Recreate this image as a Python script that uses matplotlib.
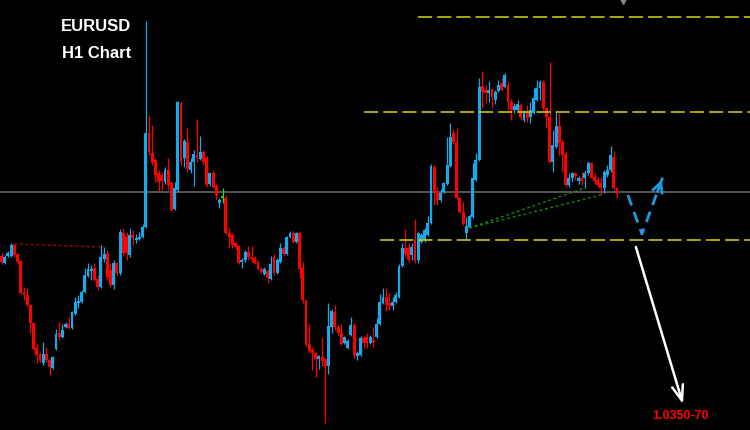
import numpy as np
import matplotlib
matplotlib.use("Agg")
import matplotlib.pyplot as plt

# EURUSD H1 candles
opens = [1.0744, 1.0737, 1.0744, 1.0744, 1.0755, 1.0746, 1.0739, 1.0708, 1.0705, 1.0695,
         1.0677, 1.0652, 1.0646, 1.0637, 1.0646, 1.0640, 1.0632, 1.0651, 1.0667, 1.0663,
         1.0673, 1.0676, 1.0672, 1.0686, 1.0697, 1.0698, 1.0708, 1.0724, 1.0729, 1.0732,
         1.0721, 1.0713, 1.0741, 1.0746, 1.0730, 1.0715, 1.0737, 1.0727, 1.0767, 1.0763,
         1.0745, 1.0765, 1.0760, 1.0761, 1.0763, 1.0773,
         1.0867, 1.0847, 1.0840, 1.0827, 1.0825, 1.0818, 1.0830, 1.0817, 1.0791, 1.0810,
         1.0897, 1.0842, 1.0858, 1.0830, 1.0838, 1.0845, 1.0841, 1.0848, 1.0842, 1.0816,
         1.0827, 1.0814, 1.0797, 1.0802, 1.0802, 1.0767, 1.0765, 1.0757, 1.0754, 1.0738,
         1.0740, 1.0748, 1.0743, 1.0742, 1.0738, 1.0731, 1.0726,
         1.0729, 1.0721, 1.0743, 1.0727, 1.0738, 1.0752, 1.0746, 1.0763, 1.0767, 1.0758,
         1.0767, 1.0732, 1.0700, 1.0656, 1.0650, 1.0647, 1.0641, 1.0643, 1.0641, 1.0634,
         1.0673, 1.0688, 1.0673, 1.0667, 1.0657, 1.0652, 1.0665, 1.0675, 1.0644, 1.0645,
         1.0662, 1.0663, 1.0657, 1.0660, 1.0663, 1.0676, 1.0697, 1.0703, 1.0697, 1.0694,
         1.0698, 1.0703, 1.0734, 1.0752, 1.0752, 1.0745, 1.0760, 1.0740, 1.0758, 1.0760,
         1.0765, 1.0777, 1.0833, 1.0808, 1.0800, 1.0808, 1.0816, 1.0834, 1.0867, 1.0858,
         1.0802, 1.0788, 1.0767, 1.0773, 1.0783, 1.0820, 1.0840, 1.0914, 1.0910, 1.0907,
         1.0911, 1.0900, 1.0909, 1.0917, 1.0913, 1.0915, 1.0898, 1.0890, 1.0890,
         1.0895, 1.0880, 1.0887, 1.0883, 1.0887, 1.0900, 1.0912, 1.0918, 1.0892, 1.0883,
         1.0838, 1.0853, 1.0874, 1.0858, 1.0846, 1.0815, 1.0822, 1.0827, 1.0819, 1.0822,
         1.0822, 1.0827, 1.0837, 1.0823, 1.0820, 1.0817, 1.0812, 1.0825, 1.0830, 1.0843, 1.0812]

highs = [1.0747, 1.0745, 1.0749, 1.0757, 1.0756, 1.0747, 1.0740, 1.0713, 1.0712, 1.0696,
         1.0678, 1.0657, 1.0648, 1.0658, 1.0653, 1.0642, 1.0644, 1.0671, 1.0678, 1.0676,
         1.0678, 1.0683, 1.0689, 1.0703, 1.0705, 1.0710, 1.0732, 1.0737, 1.0735, 1.0737,
         1.0725, 1.0755, 1.0753, 1.0750, 1.0737, 1.0740, 1.0738, 1.0771, 1.0772, 1.0768,
         1.0772, 1.0770, 1.0766, 1.0768, 1.0776, 1.0979,
         1.0885, 1.0875, 1.0842, 1.0830, 1.0828, 1.0833, 1.0842, 1.0819, 1.0818, 1.0899,
         1.0898, 1.0861, 1.0872, 1.0842, 1.0850, 1.0881, 1.0864, 1.0850, 1.0844, 1.0828,
         1.0830, 1.0816, 1.0802, 1.0812, 1.0805, 1.0772, 1.0767, 1.0759, 1.0755, 1.0742,
         1.0750, 1.0754, 1.0754, 1.0744, 1.0740, 1.0733, 1.0733,
         1.0731, 1.0744, 1.0746, 1.0742, 1.0757, 1.0754, 1.0764, 1.0769, 1.0769, 1.0768,
         1.0768, 1.0738, 1.0700, 1.0676, 1.0653, 1.0648, 1.0645, 1.0663, 1.0642, 1.0697,
         1.0691, 1.0695, 1.0675, 1.0676, 1.0664, 1.0661, 1.0683, 1.0677, 1.0649, 1.0664,
         1.0664, 1.0667, 1.0665, 1.0673, 1.0682, 1.0706, 1.0712, 1.0712, 1.0707, 1.0703,
         1.0708, 1.0736, 1.0757, 1.0771, 1.0757, 1.0757, 1.0781, 1.0768, 1.0767, 1.0772,
         1.0784, 1.0836, 1.0835, 1.0813, 1.0811, 1.0818, 1.0863, 1.0877, 1.0871, 1.0872,
         1.0802, 1.0798, 1.0783, 1.0786, 1.0837, 1.0847, 1.0922, 1.0929, 1.0915, 1.0919,
         1.0912, 1.0910, 1.0920, 1.0922, 1.0927, 1.0919, 1.0901, 1.0897, 1.0900,
         1.0897, 1.0890, 1.0895, 1.0898, 1.0912, 1.0920, 1.0920, 1.0920, 1.0893, 1.0938,
         1.0870, 1.0888, 1.0887, 1.0861, 1.0849, 1.0827, 1.0828, 1.0828, 1.0824, 1.0828,
         1.0830, 1.0839, 1.0838, 1.0827, 1.0823, 1.0823, 1.0830, 1.0835, 1.0854, 1.0849, 1.0813]

lows = [1.0736, 1.0736, 1.0743, 1.0743, 1.0743, 1.0736, 1.0706, 1.0700, 1.0694, 1.0667,
        1.0650, 1.0637, 1.0638, 1.0635, 1.0638, 1.0625, 1.0631, 1.0650, 1.0660, 1.0662,
        1.0672, 1.0671, 1.0671, 1.0685, 1.0692, 1.0697, 1.0707, 1.0723, 1.0720, 1.0719,
        1.0710, 1.0712, 1.0738, 1.0720, 1.0713, 1.0711, 1.0725, 1.0725, 1.0744, 1.0740,
        1.0743, 1.0755, 1.0757, 1.0760, 1.0762, 1.0772,
        1.0845, 1.0835, 1.0818, 1.0808, 1.0810, 1.0816, 1.0810, 1.0789, 1.0790, 1.0808,
        1.0835, 1.0833, 1.0828, 1.0827, 1.0814, 1.0838, 1.0840, 1.0836, 1.0813, 1.0814,
        1.0812, 1.0800, 1.0792, 1.0797, 1.0766, 1.0753, 1.0752, 1.0751, 1.0736, 1.0732,
        1.0738, 1.0740, 1.0738, 1.0736, 1.0730, 1.0727, 1.0725,
        1.0717, 1.0720, 1.0725, 1.0726, 1.0737, 1.0744, 1.0745, 1.0762, 1.0757, 1.0757,
        1.0722, 1.0697, 1.0654, 1.0648, 1.0630, 1.0623, 1.0631, 1.0634, 1.0577, 1.0626,
        1.0667, 1.0670, 1.0665, 1.0655, 1.0656, 1.0651, 1.0664, 1.0642, 1.0640, 1.0644,
        1.0652, 1.0652, 1.0656, 1.0653, 1.0662, 1.0675, 1.0696, 1.0689, 1.0690, 1.0690,
        1.0697, 1.0702, 1.0733, 1.0743, 1.0738, 1.0740, 1.0737, 1.0737, 1.0757, 1.0758,
        1.0764, 1.0776, 1.0795, 1.0795, 1.0798, 1.0807, 1.0815, 1.0833, 1.0856, 1.0801,
        1.0787, 1.0775, 1.0760, 1.0772, 1.0782, 1.0819, 1.0839, 1.0892, 1.0897, 1.0898,
        1.0893, 1.0896, 1.0908, 1.0909, 1.0912, 1.0890, 1.0880, 1.0887, 1.0888,
        1.0880, 1.0878, 1.0878, 1.0877, 1.0886, 1.0899, 1.0900, 1.0890, 1.0872, 1.0837,
        1.0828, 1.0852, 1.0845, 1.0828, 1.0813, 1.0813, 1.0818, 1.0820, 1.0816, 1.0815,
        1.0812, 1.0825, 1.0822, 1.0816, 1.0813, 1.0805, 1.0807, 1.0823, 1.0828, 1.0810, 1.0802]

closes = [1.0738, 1.0743, 1.0747, 1.0755, 1.0745, 1.0738, 1.0707, 1.0705, 1.0695, 1.0677,
          1.0651, 1.0645, 1.0639, 1.0646, 1.0640, 1.0633, 1.0643, 1.0666, 1.0663, 1.0670,
          1.0676, 1.0672, 1.0688, 1.0698, 1.0699, 1.0708, 1.0725, 1.0731, 1.0731, 1.0720,
          1.0713, 1.0743, 1.0746, 1.0723, 1.0715, 1.0737, 1.0727, 1.0768, 1.0747, 1.0747,
          1.0765, 1.0762, 1.0762, 1.0763, 1.0773, 1.0867,
          1.0848, 1.0838, 1.0825, 1.0818, 1.0819, 1.0830, 1.0815, 1.0790, 1.0812, 1.0898,
          1.0838, 1.0859, 1.0831, 1.0838, 1.0846, 1.0842, 1.0848, 1.0838, 1.0815, 1.0827,
          1.0813, 1.0805, 1.0800, 1.0802, 1.0767, 1.0763, 1.0755, 1.0753, 1.0737, 1.0740,
          1.0748, 1.0743, 1.0741, 1.0737, 1.0731, 1.0728, 1.0731,
          1.0722, 1.0736, 1.0727, 1.0740, 1.0752, 1.0746, 1.0763, 1.0767, 1.0758, 1.0767,
          1.0731, 1.0700, 1.0655, 1.0649, 1.0647, 1.0641, 1.0644, 1.0639, 1.0634, 1.0674,
          1.0689, 1.0673, 1.0667, 1.0656, 1.0663, 1.0659, 1.0675, 1.0645, 1.0647, 1.0662,
          1.0657, 1.0657, 1.0663, 1.0658, 1.0676, 1.0698, 1.0703, 1.0695, 1.0694, 1.0698,
          1.0705, 1.0734, 1.0752, 1.0746, 1.0740, 1.0753, 1.0739, 1.0767, 1.0765, 1.0770,
          1.0777, 1.0834, 1.0808, 1.0800, 1.0807, 1.0817, 1.0835, 1.0863, 1.0858, 1.0802,
          1.0788, 1.0776, 1.0774, 1.0784, 1.0822, 1.0840, 1.0913, 1.0908, 1.0907, 1.0910,
          1.0903, 1.0908, 1.0915, 1.0910, 1.0925, 1.0898, 1.0890, 1.0894, 1.0896,
          1.0883, 1.0887, 1.0882, 1.0890, 1.0902, 1.0912, 1.0918, 1.0892, 1.0883, 1.0838,
          1.0855, 1.0874, 1.0857, 1.0845, 1.0815, 1.0822, 1.0827, 1.0824, 1.0822, 1.0819,
          1.0827, 1.0837, 1.0822, 1.0819, 1.0815, 1.0812, 1.0828, 1.0830, 1.0845, 1.0812, 1.0806]

# drawn levels / annotations
pivot_level = 1.0808
resistance_levels = [1.0983, 1.0888]
support_level = 1.0760
proj_idx = [195.4, 199.8, 206.3]
proj_price = [1.0805, 1.0766, 1.0823]
target_idx = [197.9, 212.6]
target_price = [1.0753, 1.0596]
target_label = "1.0350-70"

BLUE = '#14aaee'
RED = '#ff0000'
GREEN = '#22dd22'
YELLOW = '#c8c800'

o = np.array(opens)
h = np.array(highs)
l = np.array(lows)
c = np.array(closes)
x = np.arange(len(o))

fig = plt.figure(figsize=(7.5, 4.3), dpi=100, facecolor='black')
ax = fig.add_axes([0, 0, 1, 1])
ax.set_facecolor('black')
ax.set_xlim(-0.47, 233.5)
ax.set_ylim(1.0570, 1.1000)
ax.axis('off')

# horizontal lines
ax.axhline(pivot_level, color='#5c5c5c', lw=1.3, zorder=1)
ax.axhline(resistance_levels[0], xmin=0.557, color=YELLOW, lw=1.2, ls=(0, (8.5, 3)), zorder=3)
ax.axhline(resistance_levels[1], xmin=0.485, color=YELLOW, lw=1.2, ls=(0, (8.5, 3)), zorder=3)
ax.axhline(support_level, xmin=0.507, color=YELLOW, lw=1.2, ls=(0, (8.5, 3)), zorder=3)

# candles
colors = np.where(c > o, BLUE, np.where(c < o, RED, GREEN))
ax.vlines(x, l, h, colors=colors, lw=0.9, zorder=2)
ax.bar(x, np.maximum(np.abs(c - o), 0.00015), bottom=np.minimum(o, c),
       width=0.9, color=colors, lw=0, antialiased=False, zorder=2)

# trend lines
ax.plot([4, 32], [h[4], h[32]], color='#b00000', lw=1, ls=(0, (2, 2)), zorder=3)
ax.plot([146, 182], [l[146], l[182]], color='#138a13', lw=1, ls=(0, (2, 2)), zorder=3)
ax.plot([146, 187], [l[146], l[187]], color='#138a13', lw=1, ls=(0, (2, 2)), zorder=3)

# expected bounce path
ax.plot(proj_idx, proj_price, color='#1e9be0', lw=2, ls=(0, (4, 2.5)), zorder=4)
dx = proj_idx[2] - proj_idx[1]
dy = proj_price[2] - proj_price[1]
ax.annotate('', xy=(proj_idx[2], proj_price[2]),
            xytext=(proj_idx[2] - 0.3 * dx, proj_price[2] - 0.3 * dy),
            arrowprops=dict(arrowstyle='->,head_length=0.7,head_width=0.35',
                            color='#1e9be0', lw=2), zorder=4)

# target arrow
ax.annotate('', xy=(target_idx[1], target_price[1]), xytext=(target_idx[0], target_price[0]),
            arrowprops=dict(arrowstyle='->,head_length=1.1,head_width=0.4',
                            color='white', lw=1.8, shrinkA=0, shrinkB=0), zorder=4)
ax.text(0.907, 0.033, target_label, transform=ax.transAxes, ha='center', va='center',
        color='#ff0000', fontsize=9, fontweight='bold', family='Liberation Sans')

# titles
ax.text(0.1747, 0.938, 'EURUSD', transform=ax.transAxes, ha='right', va='center',
        color='white', fontsize=12, fontweight='bold', family='Liberation Sans')
ax.text(0.1747, 0.876, 'H1 Chart', transform=ax.transAxes, ha='right', va='center',
        color='white', fontsize=12, fontweight='bold', family='Liberation Sans')

# small marker at top
ax.plot([0.831], [1.0], marker='v', ms=6, color='#8a8a8a', transform=ax.transAxes, zorder=5)

fig.savefig('out.png', dpi=100, facecolor='black')
